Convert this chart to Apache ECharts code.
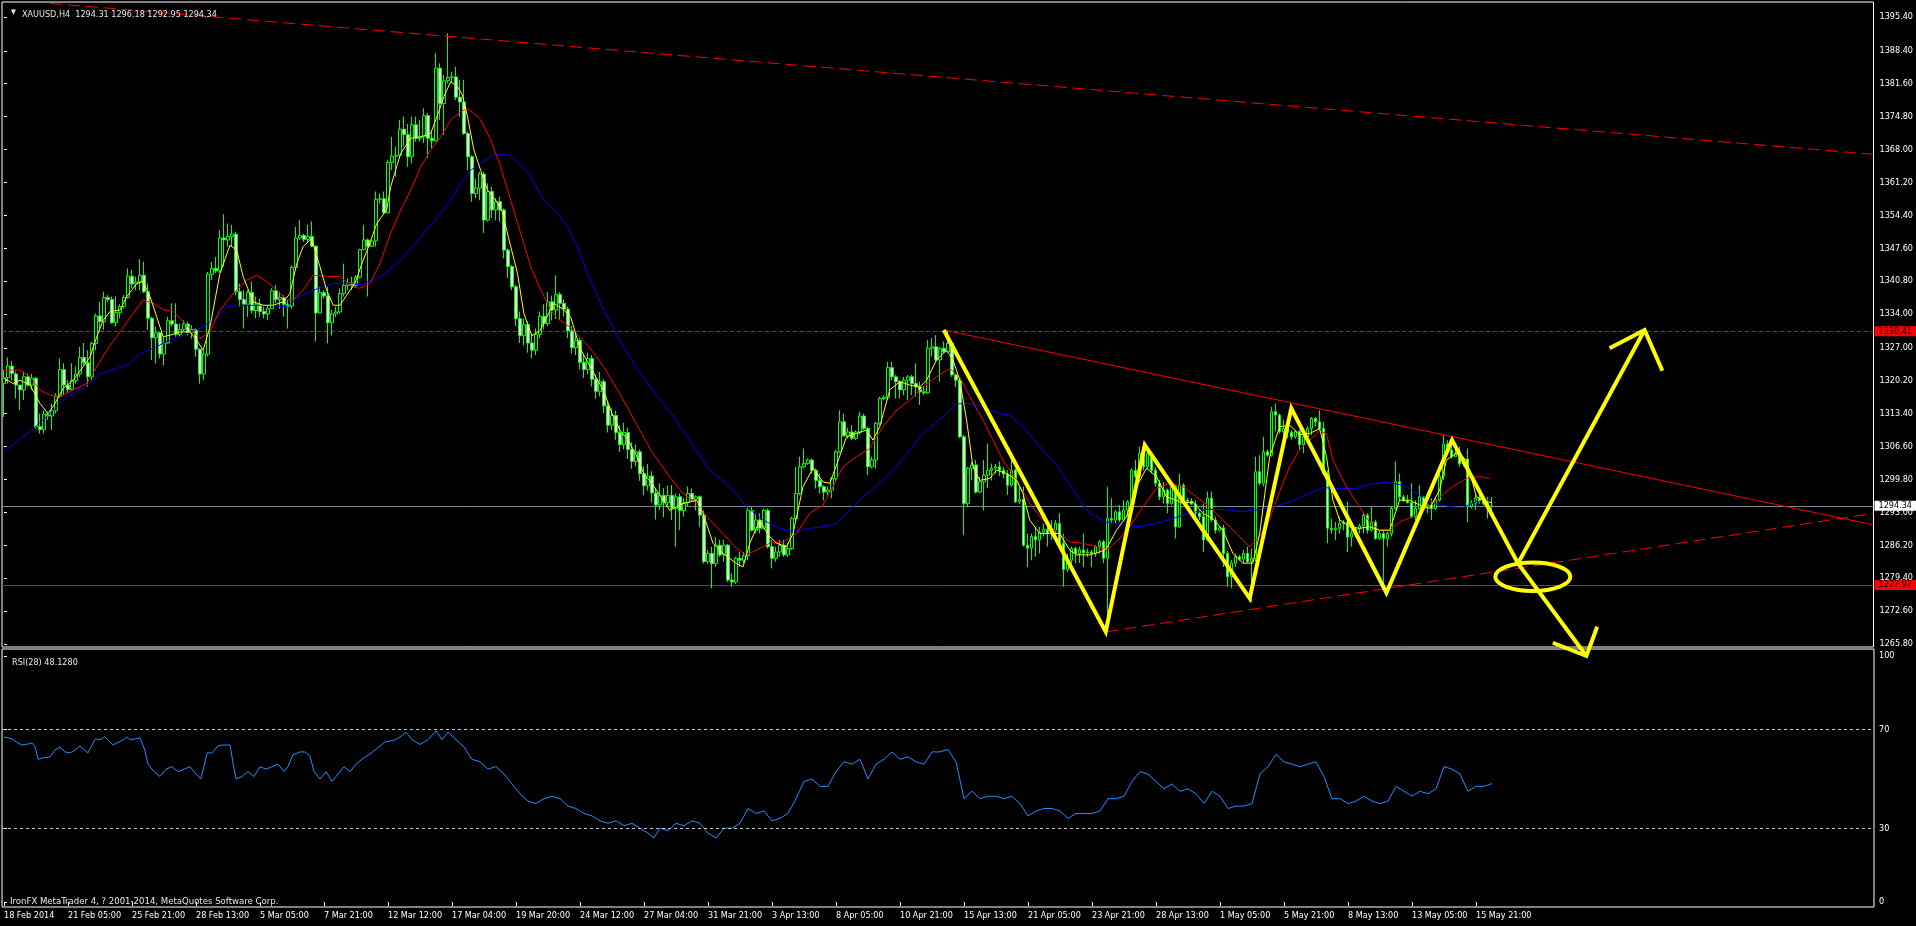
<!DOCTYPE html>
<html><head><meta charset="utf-8">
<script src="https://cdn.jsdelivr.net/npm/echarts@6/dist/echarts.min.js"></script>
<style>html,body{margin:0;padding:0;background:#000;overflow:hidden}#c{width:1916px;height:926px}</style>
</head><body><div id="c"></div>
<script>
const FONT = '"DejaVu Sans Condensed","DejaVu Sans","Liberation Sans",sans-serif';

// ---- tick labels ----
const dateLabels = ['18 Feb 2014','21 Feb 05:00','25 Feb 21:00','28 Feb 13:00','5 Mar 05:00','7 Mar 21:00','12 Mar 12:00','17 Mar 04:00','19 Mar 20:00','24 Mar 12:00','27 Mar 04:00','31 Mar 21:00','3 Apr 13:00','8 Apr 05:00','10 Apr 21:00','15 Apr 13:00','21 Apr 05:00','23 Apr 21:00','28 Apr 13:00','1 May 05:00','5 May 21:00','8 May 13:00','13 May 05:00','15 May 21:00'];
const priceTicks = [1395.40,1388.40,1381.60,1374.80,1368.00,1361.20,1354.40,1347.60,1340.80,1334.00,1327.00,1320.20,1313.40,1306.60,1299.80,1293.00,1286.20,1279.40,1272.60,1265.80];
const rsiTicks = [0,30,70,100];

// ---- H4 candles (bar index = position in arrays) ----
const opens = [
1319.6,1320.8,1323.2,1321.6,1319.3,1318.3,1321.0,1319.3,1320.7,1310.7,
1310.1,1313.3,1312.9,1314.0,1317.0,1322.5,1319.3,1318.4,1320.2,1321.6,
1325.0,1323.9,1321.0,1327.9,1333.6,1332.4,1337.4,1337.0,1332.2,1334.3,
1335.5,1337.4,1341.8,1340.2,1340.6,1342.0,1338.6,1333.1,1329.1,1330.1,
1325.7,1328.0,1332.6,1331.9,1329.8,1330.8,1331.9,1330.1,1330.8,1326.7,
1321.6,1325.7,1342.2,1343.4,1342.9,1349.7,1349.3,1350.0,1350.5,1338.6,
1337.0,1336.0,1338.4,1334.7,1336.0,1334.5,1334.0,1335.1,1338.8,1337.0,
1337.4,1336.0,1335.6,1343.6,1349.7,1350.2,1349.4,1350.0,1348.0,1334.2,
1338.4,1337.7,1332.2,1334.0,1334.4,1338.2,1339.9,1340.4,1339.9,1341.6,
1347.3,1349.3,1348.0,1349.1,1357.7,1357.8,1354.9,1365.3,1366.6,1366.8,
1372.2,1371.1,1366.5,1373.1,1370.3,1370.6,1375.0,1370.3,1369.8,1384.8,
1377.5,1382.2,1382.9,1383.0,1378.8,1377.8,1371.3,1366.5,1358.9,1360.0,
1362.9,1353.4,1359.3,1355.5,1357.2,1355.5,1347.2,1343.8,1339.6,1333.0,
1329.5,1331.8,1328.0,1326.5,1329.8,1333.5,1332.0,1336.5,1334.8,1338.0,
1336.2,1335.0,1330.5,1327.0,1328.5,1324.0,1322.5,1324.8,1320.5,1318.0,
1320.0,1315.0,1311.0,1313.0,1309.5,1307.0,1309.5,1306.0,1303.5,1305.5,
1301.0,1298.5,1300.5,1297.0,1294.5,1296.5,1295.0,1296.5,1293.8,1296.2,
1293.4,1295.0,1296.9,1295.7,1296.2,1292.4,1282.8,1284.5,1282.4,1286.2,
1284.2,1286.2,1279.0,1278.6,1283.5,1283.1,1284.0,1293.4,1289.3,1291.4,
1289.7,1293.4,1285.9,1283.5,1284.8,1286.2,1284.2,1285.5,1291.7,1296.9,
1302.4,1303.1,1303.8,1301.7,1299.6,1298.3,1297.2,1297.6,1300.0,1305.5,
1311.7,1308.8,1309.6,1308.3,1309.6,1312.9,1310.3,1302.4,1303.8,1311.4,
1316.5,1316.7,1322.9,1321.0,1320.0,1318.3,1320.3,1321.0,1319.6,1318.9,
1317.9,1317.7,1326.9,1327.2,1324.5,1326.9,1326.2,1327.9,1321.4,1320.3,
1308.6,1294.8,1302.1,1302.8,1297.2,1299.3,1300.7,1301.7,1302.1,1302.4,
1301.7,1300.9,1298.6,1301.7,1295.2,1295.7,1286.2,1285.6,1288.0,1287.3,
1288.9,1289.5,1288.6,1289.3,1290.7,1286.6,1281.2,1283.1,1285.5,1284.5,
1285.2,1284.6,1284.8,1284.5,1285.9,1286.9,1283.5,1291.7,1291.4,1293.1,
1291.4,1293.5,1295.2,1301.7,1300.4,1305.2,1302.4,1305.2,1301.7,1299.0,
1296.2,1297.6,1294.8,1298.3,1290.0,1298.6,1295.5,1295.2,1294.7,1292.8,
1292.1,1287.3,1295.9,1291.4,1289.3,1289.8,1284.5,1279.7,1282.5,1283.8,
1283.3,1284.5,1282.8,1283.5,1301.4,1299.0,1305.5,1304.8,1313.8,1313.1,
1309.7,1310.3,1309.5,1308.6,1309.7,1307.0,1308.6,1310.3,1312.4,1311.7,
1310.3,1301.0,1289.7,1289.4,1289.7,1290.7,1291.0,1287.9,1288.6,1289.6,
1290.2,1292.4,1289.3,1291.0,1287.6,1288.6,1287.6,1288.6,1293.8,1299.3,
1296.2,1295.4,1295.0,1292.1,1293.8,1296.2,1294.2,1294.5,1293.8,1295.5,
1300.4,1307.1,1305.9,1304.5,1305.2,1303.0,1304.0,1294.2,1294.9,1295.9,
1295.3,1294.8,1294.31];
const highs = [
1322.4,1325.0,1324.3,1322.1,1319.3,1322.1,1321.7,1321.6,1321.0,1313.4,
1314.1,1313.8,1315.5,1317.6,1324.8,1323.8,1320.3,1323.8,1323.1,1327.2,
1328.0,1326.5,1328.3,1334.1,1336.5,1338.6,1337.9,1337.6,1337.6,1336.0,
1337.9,1343.4,1343.1,1341.7,1345.3,1344.8,1340.3,1333.4,1331.4,1330.3,
1329.3,1333.4,1336.2,1336.2,1332.0,1332.7,1332.4,1331.7,1331.0,1326.9,
1326.5,1342.7,1344.8,1345.8,1351.3,1354.6,1352.7,1352.4,1351.0,1340.3,
1338.9,1338.9,1340.7,1337.6,1337.2,1335.5,1335.8,1339.3,1340.0,1338.6,
1337.9,1336.9,1344.1,1352.0,1353.4,1350.6,1352.4,1353.1,1348.2,1339.6,
1338.9,1339.6,1334.8,1335.5,1339.3,1344.4,1341.3,1341.7,1342.0,1347.5,
1352.4,1349.6,1349.4,1359.3,1358.9,1359.3,1365.8,1370.6,1368.6,1374.1,
1374.8,1373.3,1374.8,1374.8,1374.1,1376.5,1375.5,1372.0,1387.9,1385.8,
1383.4,1392.0,1384.1,1385.1,1382.4,1382.4,1371.7,1366.8,1362.0,1363.4,
1363.4,1361.0,1360.3,1357.9,1358.2,1355.8,1347.5,1344.1,1340.0,1334.5,
1333.0,1332.5,1330.0,1331.0,1334.5,1336.0,1338.5,1337.8,1342.0,1338.5,
1337.0,1335.5,1331.5,1330.0,1329.0,1325.8,1326.0,1325.5,1321.5,1322.0,
1320.5,1316.0,1314.5,1314.0,1311.0,1311.5,1310.5,1307.5,1307.0,1306.0,
1302.5,1303.0,1301.5,1298.0,1299.0,1298.0,1298.5,1298.6,1296.9,1296.9,
1295.9,1298.3,1297.9,1296.5,1296.5,1293.4,1285.2,1285.9,1287.9,1287.3,
1287.3,1286.5,1280.4,1283.8,1284.8,1284.8,1294.1,1294.1,1292.8,1292.8,
1293.8,1293.8,1287.3,1285.9,1287.3,1287.3,1286.6,1292.1,1302.4,1304.5,
1306.2,1304.1,1304.1,1302.1,1301.0,1298.6,1298.3,1300.3,1305.9,1314.1,
1313.4,1310.5,1311.0,1310.0,1313.8,1313.4,1310.7,1304.5,1311.7,1316.9,
1317.2,1324.1,1324.1,1321.4,1320.3,1321.0,1321.4,1321.4,1323.8,1320.0,
1318.9,1328.6,1329.0,1329.6,1327.2,1328.3,1330.7,1328.2,1321.7,1320.7,
1309.0,1302.4,1303.4,1303.8,1300.3,1303.8,1307.2,1303.1,1303.0,1303.5,
1302.4,1301.7,1303.8,1302.1,1298.3,1298.3,1288.6,1288.6,1290.0,1290.0,
1290.7,1290.0,1291.4,1291.4,1292.8,1288.6,1284.5,1285.9,1285.9,1285.9,
1288.6,1285.5,1285.2,1286.2,1287.3,1287.3,1298.3,1295.9,1293.5,1294.5,
1295.5,1295.5,1302.1,1303.8,1306.6,1306.6,1306.0,1305.5,1302.4,1299.7,
1299.3,1297.9,1299.0,1298.6,1301.0,1299.0,1296.0,1295.9,1295.5,1293.5,
1294.8,1297.3,1297.3,1292.1,1290.2,1290.4,1285.0,1283.1,1284.5,1284.2,
1285.2,1285.9,1285.5,1304.5,1304.8,1308.6,1306.0,1314.8,1315.5,1313.4,
1312.1,1311.0,1310.0,1310.0,1310.0,1309.7,1310.8,1312.7,1312.7,1314.1,
1311.7,1301.7,1291.7,1291.0,1292.1,1291.4,1295.2,1289.3,1290.0,1290.7,
1292.8,1292.8,1294.1,1291.4,1289.3,1289.3,1289.0,1294.1,1303.5,1301.0,
1296.6,1296.6,1299.0,1295.5,1298.6,1296.4,1294.8,1295.9,1296.2,1301.0,
1309.0,1307.9,1307.9,1306.2,1306.6,1304.5,1306.2,1295.5,1296.6,1296.6,
1295.9,1296.2,1296.18];
const lows = [
1312.7,1319.6,1320.3,1316.5,1314.1,1316.2,1319.0,1318.3,1310.3,1309.3,
1309.3,1312.1,1310.0,1313.4,1316.7,1317.2,1317.6,1318.1,1319.6,1321.0,
1323.4,1319.0,1320.3,1326.5,1330.3,1330.7,1336.5,1332.0,1331.4,1333.1,
1335.1,1337.2,1339.3,1338.9,1338.9,1338.3,1330.7,1324.5,1323.8,1324.8,
1323.4,1327.8,1331.4,1329.3,1329.3,1330.3,1329.6,1328.9,1325.2,1319.6,
1320.3,1325.2,1341.0,1342.4,1342.5,1343.8,1347.9,1347.9,1337.9,1335.5,
1331.0,1333.4,1334.1,1333.1,1333.4,1333.1,1332.7,1335.1,1336.2,1335.1,
1333.4,1331.0,1335.1,1343.1,1349.3,1348.9,1348.6,1347.8,1328.3,1334.1,
1337.2,1327.9,1329.6,1333.4,1334.1,1337.6,1338.9,1338.9,1339.6,1341.3,
1347.2,1337.6,1347.9,1347.9,1356.9,1354.6,1354.8,1363.7,1362.4,1366.4,
1368.6,1364.4,1365.1,1369.6,1369.6,1369.3,1366.2,1368.2,1369.6,1374.1,
1371.0,1381.7,1381.7,1378.2,1374.8,1371.0,1363.7,1357.2,1357.9,1357.5,
1350.7,1353.1,1353.8,1353.4,1353.1,1345.5,1341.4,1338.9,1331.5,1328.0,
1327.5,1326.0,1324.8,1325.5,1329.0,1330.8,1331.5,1332.7,1333.0,1332.7,
1333.5,1329.0,1325.8,1325.5,1322.5,1320.8,1321.5,1319.0,1316.5,1317.0,
1313.5,1309.5,1310.0,1308.0,1305.5,1306.0,1304.0,1302.0,1302.5,1299.5,
1296.5,1297.5,1295.0,1291.5,1293.5,1292.0,1294.0,1291.4,1285.9,1289.3,
1292.1,1294.1,1295.2,1293.4,1290.0,1282.4,1282.4,1277.3,1281.7,1283.8,
1282.8,1278.6,1277.6,1278.2,1281.7,1282.4,1283.1,1289.0,1288.6,1288.6,
1289.5,1285.5,1281.4,1282.8,1283.8,1283.8,1283.8,1285.2,1291.4,1296.5,
1302.1,1302.8,1301.0,1297.9,1296.9,1295.5,1296.5,1295.9,1299.3,1305.2,
1308.6,1308.3,1307.9,1307.9,1309.0,1310.0,1300.7,1302.1,1302.1,1311.0,
1316.2,1316.2,1320.3,1316.5,1316.5,1317.2,1316.2,1317.2,1316.9,1315.2,
1317.2,1317.5,1325.2,1324.1,1320.0,1325.9,1326.0,1321.0,1318.9,1308.3,
1288.3,1294.1,1299.6,1296.9,1296.9,1293.4,1298.0,1299.6,1301.0,1300.5,
1300.0,1296.6,1298.3,1294.9,1294.7,1285.9,1281.7,1283.1,1283.8,1284.5,
1288.0,1285.9,1287.3,1288.0,1285.9,1277.6,1280.7,1282.1,1282.5,1282.5,
1281.7,1283.8,1281.7,1283.8,1284.5,1282.5,1268.6,1290.7,1290.7,1291.0,
1291.4,1292.1,1294.7,1300.0,1300.4,1301.7,1302.0,1301.0,1298.3,1295.5,
1294.8,1292.8,1294.5,1287.6,1289.8,1295.0,1294.8,1294.5,1292.1,1291.4,
1284.8,1287.0,1291.0,1288.6,1289.0,1281.7,1277.6,1277.3,1281.7,1283.0,
1282.5,1282.5,1274.5,1282.8,1298.6,1298.3,1304.5,1304.5,1309.7,1309.3,
1308.0,1308.3,1308.0,1308.2,1305.9,1305.2,1308.3,1309.0,1310.7,1310.0,
1300.7,1286.6,1288.6,1287.3,1288.6,1289.3,1284.8,1285.9,1288.0,1288.6,
1288.6,1288.6,1289.0,1287.3,1287.3,1276.9,1285.9,1288.0,1293.5,1295.5,
1295.2,1294.8,1291.7,1291.4,1293.5,1294.0,1292.8,1291.4,1293.5,1295.2,
1299.7,1305.2,1304.1,1304.5,1302.4,1302.5,1291.0,1293.8,1293.5,1294.8,
1294.5,1291.7,1292.95];
const closes = [
1320.8,1323.2,1321.7,1319.3,1318.3,1321.0,1319.3,1320.7,1310.7,1310.1,
1313.3,1312.9,1314.0,1317.0,1322.5,1319.3,1318.4,1320.2,1321.6,1325.0,
1323.9,1321.0,1327.9,1333.6,1332.4,1337.4,1337.0,1332.2,1334.3,1335.5,
1337.4,1341.8,1340.2,1340.6,1342.0,1338.6,1333.1,1329.1,1330.1,1325.7,
1328.0,1332.6,1331.9,1329.8,1330.8,1331.9,1330.1,1330.8,1326.7,1321.6,
1325.7,1342.2,1343.4,1342.9,1349.7,1349.3,1350.0,1350.5,1338.6,1337.0,
1336.0,1338.4,1334.7,1336.0,1334.5,1334.0,1335.1,1338.8,1337.0,1337.4,
1336.0,1335.6,1343.6,1349.7,1350.2,1349.4,1350.0,1348.0,1334.2,1338.4,
1337.7,1332.2,1334.0,1334.4,1338.2,1339.9,1340.4,1339.9,1341.6,1347.3,
1349.3,1348.0,1349.1,1357.7,1357.8,1354.9,1365.3,1366.6,1366.8,1372.2,
1371.1,1366.5,1373.1,1370.3,1370.6,1375.0,1370.3,1369.8,1384.8,1377.5,
1382.2,1382.9,1383.0,1378.8,1377.8,1371.3,1366.5,1358.9,1360.0,1362.9,
1353.4,1359.3,1355.5,1357.2,1355.5,1347.2,1343.8,1339.6,1333.0,1329.5,
1331.8,1328.0,1326.5,1329.8,1333.5,1332.0,1336.5,1334.8,1338.0,1336.2,
1335.0,1330.5,1327.0,1328.5,1324.0,1322.5,1324.8,1320.5,1318.0,1320.0,
1315.0,1311.0,1313.0,1309.5,1307.0,1309.5,1306.0,1303.5,1305.5,1301.0,
1298.5,1300.5,1297.0,1294.5,1296.5,1295.0,1296.5,1293.8,1296.2,1293.4,
1295.0,1296.9,1295.7,1296.2,1292.4,1282.8,1284.5,1282.4,1286.2,1284.2,
1286.2,1279.0,1278.6,1283.5,1283.1,1284.0,1293.4,1289.3,1291.4,1289.7,
1293.4,1285.9,1283.5,1284.8,1286.2,1284.2,1285.5,1291.7,1296.9,1302.4,
1303.1,1303.8,1301.7,1299.6,1298.3,1297.2,1297.6,1300.0,1305.5,1311.7,
1308.8,1309.6,1308.3,1309.6,1312.9,1310.3,1302.4,1303.8,1311.4,1316.5,
1316.7,1322.9,1321.0,1320.0,1318.3,1320.3,1321.0,1319.6,1318.9,1317.9,
1317.7,1326.9,1327.2,1324.5,1326.9,1326.2,1327.9,1321.4,1320.3,1308.6,
1294.8,1302.1,1302.8,1297.2,1299.3,1300.7,1301.7,1302.1,1302.4,1301.7,
1300.9,1298.6,1301.7,1295.2,1295.7,1286.2,1285.6,1288.0,1287.3,1288.9,
1289.5,1288.6,1289.3,1290.7,1286.6,1281.2,1283.1,1285.5,1284.5,1285.2,
1284.6,1284.8,1284.5,1285.9,1286.9,1283.5,1291.7,1291.4,1293.1,1291.4,
1293.5,1295.2,1301.7,1300.4,1305.2,1302.4,1305.2,1301.7,1299.0,1296.2,
1297.6,1294.8,1298.3,1290.0,1298.6,1295.5,1295.2,1294.7,1292.8,1292.1,
1287.3,1295.9,1291.4,1289.3,1289.8,1284.5,1279.7,1282.5,1283.8,1283.3,
1284.5,1282.8,1283.5,1301.4,1299.0,1305.5,1304.8,1313.8,1313.1,1309.7,
1310.3,1309.5,1308.6,1309.7,1307.0,1308.6,1310.3,1312.4,1311.7,1310.3,
1301.0,1289.7,1289.4,1289.7,1290.7,1291.0,1287.9,1288.6,1289.6,1290.2,
1292.4,1289.3,1291.0,1287.6,1288.6,1287.6,1288.6,1293.8,1299.3,1296.2,
1295.4,1295.0,1292.1,1293.8,1296.2,1294.2,1294.5,1293.8,1295.5,1300.4,
1307.1,1305.9,1304.5,1305.2,1303.0,1304.0,1294.2,1294.9,1295.9,1295.3,
1294.8,1294.5,1294.34];

// ---- moving averages: [bar index, price] ----
const maFast = [[0,1320.7],[2.3,1319.6],[4,1320.3],[6.5,1319.3],[9,1315.5],[11,1313.4],[12.75,1315.5],[14.8,1318.6],[17.3,1320.3],[19.8,1323.1],[21.5,1325.1],[23.2,1329.3],[24.8,1332.7],[26.5,1334.5],[29,1334.8],[30.7,1337.6],[33.2,1340.3],[34.8,1340.7],[36.5,1337.6],[38.2,1333.4],[39.8,1329.3],[41.5,1329.6],[44,1330.3],[46.5,1330.3],[48.2,1328.6],[49.8,1326.5],[51.5,1331.3],[54,1342.4],[56.5,1348.2],[58.2,1347.2],[59.8,1341.7],[62.3,1336.5],[64.8,1335.8],[67.3,1335.8],[69.8,1336.5],[71.5,1338.2],[73.2,1344.4],[74.8,1347.9],[76.9,1349.6],[79,1343.8],[80.7,1338.9],[82.3,1335.8],[84,1335.8],[85.7,1337.9],[87.75,1340.3],[89.8,1345.1],[91.5,1348.6],[93.2,1352.7],[95.7,1355.5],[96.7,1360.3],[99.2,1367.2],[101.7,1370.3],[104.2,1370.6],[106.7,1371.3],[108.4,1375.1],[110,1378.9],[111.7,1382.0],[113.4,1381.0],[114.6,1379.3],[115.9,1374.8],[117.5,1367.9],[119.2,1363.7],[120.9,1359.6],[122.95,1357.5],[124.6,1355.1],[126.3,1349.3],[128.4,1342.4],[130,1334.1],[132,1329.5],[134,1330.5],[136,1333.8],[137.5,1336.2],[139.6,1335.1],[141.7,1333.4],[144,1327.0],[146,1324.0],[148,1321.0],[150,1318.0],[152,1313.5],[154,1310.0],[156,1308.0],[158,1305.0],[160,1301.0],[162,1299.0],[164,1296.5],[166.5,1293.4],[169.8,1294.8],[173.2,1295.5],[174.8,1292.8],[177.3,1286.6],[179.8,1284.5],[183.2,1282.4],[184.8,1281.7],[186.5,1286.6],[189,1291.4],[191.1,1288.3],[193.2,1286.6],[195.7,1285.9],[197.3,1288.6],[199.8,1298.3],[202.3,1302.1],[204.8,1299.3],[206.5,1299.0],[208.2,1302.8],[210.7,1308.6],[213.2,1309.3],[215.7,1310.0],[217.3,1307.9],[219,1310.7],[221.5,1318.3],[224,1320.0],[226.5,1319.3],[229,1318.9],[230.7,1320.3],[233.2,1324.5],[235.7,1326.5],[237.3,1324.5],[239,1320.3],[240.7,1312.1],[242.3,1302.4],[244,1299.6],[246.5,1300.0],[248.2,1301.7],[250.7,1301.0],[253.2,1299.7],[254.8,1296.9],[256.5,1291.4],[259,1288.6],[261.5,1288.6],[264,1288.6],[266.5,1285.2],[268.2,1284.2],[271.5,1284.2],[274,1284.8],[275.7,1285.5],[278.2,1289.3],[280.7,1292.1],[283.2,1298.3],[285.7,1302.1],[288.2,1300.4],[290.7,1296.2],[293.2,1295.5],[294.8,1294.8],[297.3,1295.2],[299.8,1292.8],[302.3,1291.7],[304.8,1289.3],[307.3,1284.5],[309.8,1282.5],[312.3,1282.5],[314,1288.6],[316.5,1304.5],[319,1310.7],[321.5,1311.0],[324,1309.0],[326.5,1309.3],[329,1310.3],[330.7,1304.5],[332.3,1295.5],[334,1291.4],[336.5,1290.0],[339,1289.7],[341.5,1290.0],[344,1289.3],[346.5,1289.3],[349,1295.5],[351.5,1295.5],[354,1294.5],[356.5,1293.8],[359,1297.6],[360.7,1303.8],[363.2,1305.2],[365.7,1303.8],[368.2,1296.2],[370.7,1295.2],[372,1295.0]];
const maMid = [[0,1322.4],[4,1322.4],[6.5,1321.0],[9,1318.3],[11.5,1317.2],[14,1316.9],[17.3,1318.3],[20.7,1319.6],[23.2,1323.1],[25.7,1326.5],[29,1330.3],[32.3,1334.1],[34.8,1336.9],[37.3,1336.2],[39.8,1334.9],[42.3,1334.5],[45.7,1331.7],[49,1328.9],[51.5,1330.3],[54,1334.8],[57.3,1338.2],[60.7,1341.0],[63.2,1342.0],[65.7,1340.7],[68.2,1338.9],[70.7,1336.9],[72.3,1336.9],[74.8,1338.9],[77.3,1342.0],[80.7,1341.8],[84,1341.7],[87.3,1339.6],[89,1339.3],[91.5,1340.3],[94,1344.4],[96.7,1350.7],[99.2,1355.5],[101.7,1359.6],[104.2,1364.4],[106.7,1367.9],[109.2,1370.6],[111.7,1374.1],[114.2,1375.8],[115.9,1376.5],[117.5,1375.5],[119.2,1374.1],[121.7,1370.0],[124.2,1364.4],[126.7,1357.5],[129.2,1350.7],[131.7,1343.8],[134.2,1339.0],[136.7,1334.8],[138.4,1333.1],[142,1331.0],[146,1327.5],[150,1323.0],[154,1317.5],[158,1311.5],[162,1305.5],[166.5,1300.3],[169.8,1296.9],[173.2,1294.8],[176.5,1291.4],[179.8,1288.6],[183.2,1285.5],[185.7,1284.2],[188.2,1285.2],[191.5,1286.6],[194.8,1286.9],[198.2,1288.6],[201.5,1292.8],[204.8,1294.5],[207.3,1298.3],[209.8,1302.4],[213.2,1304.5],[216.5,1306.2],[219.8,1310.7],[223.2,1314.1],[226.5,1316.2],[229.8,1318.9],[233.2,1321.0],[236.5,1322.7],[239,1321.0],[241.5,1316.9],[244.8,1312.1],[247.3,1307.9],[249.8,1303.8],[253.2,1299.7],[256.5,1294.8],[259.8,1291.4],[263.2,1289.0],[266.5,1286.9],[269.8,1286.6],[273.2,1285.9],[275.7,1285.2],[278.2,1286.9],[281.5,1290.0],[284.8,1294.1],[288.2,1298.0],[291.5,1299.0],[294.8,1298.3],[298.2,1296.2],[301.5,1294.1],[304.8,1291.4],[308.2,1288.6],[311.5,1285.9],[313.2,1287.3],[315.7,1290.0],[318.2,1295.5],[319.8,1299.0],[321.5,1302.4],[324,1305.9],[326.5,1307.9],[329,1309.8],[330.7,1309.3],[332.3,1303.8],[335.7,1298.3],[339,1294.1],[341.5,1291.0],[344,1289.3],[346.5,1289.3],[349,1291.0],[352.3,1292.1],[355.7,1293.8],[359,1296.2],[362.3,1298.3],[365.7,1300.0],[369,1300.4],[371.5,1300.0]];
const maSlow = [[0,1305.5],[3,1307.5],[6.9,1310.0],[11.5,1313.4],[15.7,1316.9],[19.8,1318.6],[24,1321.7],[28.2,1322.7],[30.7,1323.4],[34,1325.8],[37.3,1326.9],[40.7,1328.3],[44.8,1329.6],[49,1331.0],[52.3,1332.7],[55.7,1335.5],[59,1335.8],[65.7,1335.8],[70.7,1335.5],[74,1337.6],[77.3,1338.9],[82.3,1340.3],[85.7,1340.4],[89,1340.0],[92.3,1341.0],[94.2,1341.7],[99.2,1345.1],[104.2,1350.0],[109.2,1354.8],[111.7,1357.5],[114.2,1361.0],[116.7,1363.7],[119.2,1365.1],[122.5,1366.9],[125.9,1366.9],[129.2,1364.8],[131.7,1362.4],[135,1357.5],[138.4,1354.8],[140.9,1352.0],[143.4,1347.9],[145.9,1342.4],[148.4,1337.6],[150.9,1333.4],[154,1328.5],[158,1323.0],[162,1318.5],[166.5,1313.8],[171.5,1307.9],[176.5,1301.7],[181.5,1298.3],[185.7,1294.1],[189.8,1291.4],[194,1289.7],[197.3,1289.0],[201.5,1289.7],[204.8,1290.0],[208.2,1290.7],[210.7,1292.8],[214.8,1296.2],[219.8,1299.6],[224.8,1304.1],[229.8,1309.3],[234.8,1312.7],[238.2,1315.4],[241.5,1315.5],[244.8,1314.8],[249,1313.4],[251.5,1313.1],[254.8,1310.7],[259,1306.6],[263.2,1302.8],[267.3,1297.6],[271.5,1292.8],[275.7,1291.0],[279.8,1290.4],[284,1290.0],[288.2,1290.7],[292.3,1291.7],[296.5,1292.8],[300.7,1293.6],[304.8,1293.6],[309.8,1293.1],[313.2,1293.5],[317.3,1294.1],[321.5,1295.2],[325.7,1296.6],[329.8,1298.1],[334,1297.9],[338.2,1297.9],[341.5,1298.8],[345.7,1299.2],[349.8,1298.6],[354,1296.6],[358.2,1294.7],[362.3,1294.1],[364.8,1294.0],[368.2,1295.2],[371.5,1295.5]];

// ---- RSI(28): [bar index, value] ----
const rsi = [[0,67.1],[2,66.3],[3.5,64.6],[4.5,63.8],[6,64.2],[7,64.6],[7.8,63.0],[8.5,58],[9.5,58.5],[11.5,59.0],[12.8,61.8],[14,63.0],[15.2,61.0],[16.5,60.6],[17.8,61.8],[19,63.4],[21,60.6],[22.8,66.3],[24,65.9],[25.2,67.1],[26.5,65.0],[27.2,63.8],[28.2,64.6],[29.8,65.9],[30.8,67.1],[31.5,65.9],[32.8,66.3],[34,66.7],[35.2,61.8],[36,56],[37.5,53],[39,51],[40.5,54],[42,55],[43.5,53],[45,54],[46.5,55],[48,52],[49.2,50],[50.8,60.6],[52,60.6],[53.5,63.4],[54.5,63.8],[56.5,63.8],[57.2,57],[58,50],[59.5,51],[61,53],[62.5,51],[64,55],[65.5,54],[67,55],[68.5,56],[70,53],[71,55],[72.2,59.8],[74,61],[75.2,61],[76.5,59.3],[77.5,53],[79,50],[80.5,53],[82,49],[83.5,52],[85,55],[86.5,53],[88,56],[89.5,58],[92.2,61],[95.2,65],[97.8,65.9],[99,67.1],[100.5,69],[102,66],[104,64],[106,66],[108,69.5],[109.5,66],[111,69],[113,66],[115,63],[117,58],[119,57],[121,54],[123,55],[125,52],[127,48],[129,44],[131,41],[133,40],[135,42],[137,43],[139,42],[141,39],[143,38],[145,36],[147,35],[149,33],[151,32],[153,33],[155,31],[157,32],[159,30],[161,28],[162.5,26],[164,30],[166,29],[168,32],[170,31],[172,33],[174,32],[176,28],[178,26],[180,30],[182,30],[184,32],[186,38],[188,36],[190,37],[192,33],[194,34],[196,36],[198,42],[200,49],[202,50],[204,47],[206,47],[208,53],[210,57],[212,56],[214,58],[216,50],[218,56],[220,58],[222,61],[224,58],[226,59],[228,57],[230,56],[232,61],[234,61],[236,62],[238,57],[240,42],[242,45],[244,42],[246,43],[248,43],[250,42],[252,43],[254,40],[256,35],[258,37],[260,38],[262,38],[264,37],[266,34],[268,36],[270,36],[272,36],[274,37],[276,42],[278,42],[280,43],[282,49],[284,53],[286,52],[288,49],[290,46],[292,48],[294,45],[296,46],[298,44],[300,40],[302,45],[304,43],[306,38],[308,39],[310,39],[312,40],[314,52],[316,55],[318,60],[320,57],[322,56],[324,55],[326,56],[328,57],[330,51],[332,42],[334,42],[336,40],[338,41],[340,43],[342,41],[344,40],[346,41],[348,47],[350,45],[352,43],[354,45],[356,44],[358,46],[360,55],[362,54],[364,52],[366,45],[368,47],[370,47],[372,48.128]];

// ---- horizontal levels ----
const resistanceLevel = 1330.41;
const bidLevel = 1294.34;
const supportLevel = 1277.97;
const rsiLevels = [70, 30];

// ---- drawn objects in [bar index, price] ----
const channelTop = [[11.5,1398.2],[467.5,1367.0]];
const fallingLine = [[235,1330.68],[467.5,1290.4]];
const risingLine = [[275.7,1268.3],[467.5,1292.8]];
const zigzag = [[235,1330.68],[275.5,1268.32],[285.25,1306.91],[311.5,1275.22],[321.9,1314.49],[345.7,1276.38],[362.1,1307.94],[378.6,1282.45],[395.7,1263.3]];
const downHead = [[387.3,1266.04],[395.7,1263.3],[398.4,1269.35]];
const upArrow = [[378.6,1282.45],[410.25,1330.68]];
const upHead = [[401.5,1326.9],[410.25,1330.68],[414.7,1322.26]];
const targetEllipse = [[382.3,1279.68,9.375,2.93]];

const totalSlots = 468;
const tickIdx = dateLabels.map((_, i) => i * 16);
const candleData = opens.map((o, i) => [i, o, closes[i], lows[i], highs[i]]);

const chart = echarts.init(document.getElementById('c'), null, {renderer: 'canvas'});
const txt = (s) => Object.assign({color: '#e8e8e8', fontSize: 9, fontWeight: 'normal', fontFamily: FONT}, s || {});

function seg(name, data, color, width, type, z) {
  return {name, type: 'line', xAxisIndex: 0, yAxisIndex: 0, data, symbol: 'none', showSymbol: false,
    clip: false, silent: true, z: z || 4,
    lineStyle: {color, width, type: type || 'solid', join: 'miter', cap: 'butt'}};
}
function lvlLabel(bg, fg) {
  return {show: true, position: 'end', distance: 1, formatter: p => p.value.toFixed(2),
    color: fg, backgroundColor: bg, padding: [1, 4, 0, 4], fontSize: 9, fontFamily: FONT};
}

const option = {
  backgroundColor: '#000000',
  animation: false,
  title: [
    {text: '\u25BC', left: 6, top: 4, textStyle: txt({fontSize: 7})},
    {text: 'XAUUSD,H4  1294.31 1296.18 1292.95 1294.34', left: 17, top: 5, textStyle: txt()},
    {text: 'RSI(28) 48.1280', left: 7, top: 653, textStyle: txt()},
    {text: 'IronFX MetaTrader 4, ? 2001-2014, MetaQuotes Software Corp.', left: 5, top: 892, textStyle: txt({fontSize: 9.5})}
  ],
  grid: [
    {left: 2, top: 2, width: 1872, height: 645, show: true, borderColor: '#ffffff', borderWidth: 1, backgroundColor: '#000'},
    {left: 2, top: 649, width: 1872, height: 258, show: true, borderColor: '#ffffff', borderWidth: 1, backgroundColor: '#000'}
  ],
  xAxis: [
    {type: 'value', gridIndex: 0, min: -0.5, max: totalSlots - 0.5, show: false},
    {type: 'value', gridIndex: 1, min: -0.5, max: totalSlots - 0.5,
      axisLine: {show: false}, splitLine: {show: false},
      axisTick: {show: true, customValues: tickIdx, length: 4, lineStyle: {color: '#ffffff'}},
      axisLabel: {customValues: tickIdx, formatter: v => dateLabels[Math.round(v / 16)], align: 'left',
        color: '#ffffff', fontSize: 9, fontFamily: FONT, margin: 4}}
  ],
  yAxis: [
    {type: 'value', gridIndex: 0, position: 'right', min: 1265.16, max: 1398.48,
      axisLine: {show: false}, splitLine: {show: false},
      axisTick: {show: true, customValues: priceTicks, length: 3, lineStyle: {color: '#ffffff'}},
      axisLabel: {customValues: priceTicks, formatter: v => v.toFixed(2), color: '#ffffff', fontSize: 9, fontFamily: FONT, margin: 6}},
    {type: 'value', gridIndex: 1, position: 'right', min: -2.0, max: 102.8,
      axisLine: {show: false}, splitLine: {show: false},
      axisTick: {show: true, customValues: rsiTicks, length: 3, lineStyle: {color: '#ffffff'}},
      axisLabel: {customValues: rsiTicks, color: '#ffffff', fontSize: 9, fontFamily: FONT, margin: 5}}
  ],
  series: [
    {name: 'XAUUSD', type: 'candlestick', xAxisIndex: 0, yAxisIndex: 0, data: candleData,
      encode: {x: 0, y: [1, 2, 3, 4]}, barWidth: 3, z: 2, silent: true,
      itemStyle: {color: '#000000', color0: '#ffffff', borderColor: '#00ff00', borderColor0: '#00ff00', borderWidth: 1},
      markLine: {silent: true, symbol: 'none', animation: false, z: 1,
        data: [
          {yAxis: resistanceLevel, lineStyle: {color: '#ff0000', width: 1, type: [4, 3]}, label: lvlLabel('#ff0000', '#000000')},
          {yAxis: bidLevel, lineStyle: {color: '#778899', width: 1, type: 'solid'}, label: lvlLabel('#ffffff', '#000000')},
          {yAxis: supportLevel, lineStyle: {color: '#ff0000', width: 1, type: 'solid'}, label: lvlLabel('#ff0000', '#000000')}
        ]}},
    seg('MA slow', maSlow, '#0000ff', 1, 'solid', 3),
    seg('MA mid', maMid, '#ff0000', 1, 'solid', 3),
    seg('MA fast', maFast, '#ffff00', 1, 'solid', 3),
    seg('Channel top', channelTop, '#ff0000', 1, [12, 6], 4),
    seg('Falling trend', fallingLine, '#ff0000', 1, 'solid', 4),
    seg('Rising trend', risingLine, '#ff0000', 1, [12, 6], 4),
    seg('Zigzag', zigzag, '#ffff00', 4, 'solid', 6),
    seg('Down head', downHead, '#ffff00', 4, 'solid', 6),
    seg('Up arrow', upArrow, '#ffff00', 4, 'solid', 6),
    seg('Up head', upHead, '#ffff00', 4, 'solid', 6),
    {name: 'Target', type: 'custom', xAxisIndex: 0, yAxisIndex: 0, data: targetEllipse, z: 6, silent: true, clip: false,
      encode: {x: 0, y: 1},
      renderItem: (params, api) => {
        const c = api.coord([api.value(0), api.value(1)]);
        const s = api.size([api.value(2), api.value(3)]);
        return {type: 'ellipse', shape: {cx: c[0], cy: c[1], rx: s[0], ry: s[1]},
          style: {fill: null, stroke: '#ffff00', lineWidth: 4}};
      }},
    {name: 'RSI(28)', type: 'line', xAxisIndex: 1, yAxisIndex: 1, data: rsi, symbol: 'none', showSymbol: false, silent: true,
      lineStyle: {color: '#1e90ff', width: 1}, z: 3,
      markLine: {silent: true, symbol: 'none', animation: false, label: {show: false},
        lineStyle: {color: '#c8c8c8', width: 1, type: [3, 3]},
        data: rsiLevels.map(v => ({yAxis: v}))}}
  ]
};
chart.setOption(option);
</script>
</body></html>
